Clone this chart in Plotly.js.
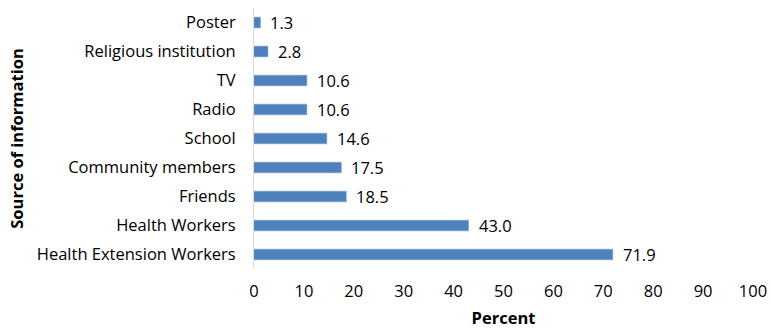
<!DOCTYPE html>
<html><head><meta charset="utf-8">
<script src="https://cdn.plot.ly/plotly-3.0.1.min.js"></script>
<style>html,body{margin:0;padding:0;background:#fff}#chart{width:771px;height:329px}</style>
</head><body><div id="chart"></div>
<script>
const categories = ["Health Extension Workers","Health Workers","Friends","Community members","School","Radio","TV","Religious institution","Poster"];
const percents = [71.9, 43.0, 18.5, 17.5, 14.6, 10.6, 10.6, 2.8, 1.3];
const xTicks = [0,10,20,30,40,50,60,70,80,90,100];

const font = "Open Sans, Liberation Sans, sans-serif";
const fs = 16.5;
const trace = {
  type: "bar", orientation: "h",
  x: percents, y: categories,
  marker: {color: "#4F81BD", line: {color: "#7EA3D1", width: 0.5}},
  width: 0.37,
  hoverinfo: "none"
};
const annotations = percents.map((v, i) => ({
  x: v, y: categories[i], xref: "x", yref: "y",
  text: v.toFixed(1), showarrow: false, xanchor: "left", xshift: 8,
  font: {family: font, size: fs, color: "#000"}
}));
const layout = {
  width: 771, height: 329,
  margin: {l: 254, r: 18, t: 8, b: 60},
  paper_bgcolor: "#fff", plot_bgcolor: "#fff",
  showlegend: false,
  font: {family: font, size: fs, color: "#000"},
  xaxis: {
    range: [0, 100], tickvals: xTicks, ticktext: xTicks.map(String),
    showgrid: false, zeroline: false, showline: false,
    ticks: "outside", ticklen: 7, tickcolor: "rgba(0,0,0,0)",
    tickfont: {family: font, size: fs, color: "#000"},
    title: {text: "<b>Percent</b>", font: {family: font, size: fs, color: "#000"}, standoff: 11}
  },
  yaxis: {
    categoryorder: "array", categoryarray: categories,
    showgrid: false, zeroline: false, showline: true, linecolor: "#D9D9D9", linewidth: 1,
    ticks: "outside", ticklen: 14, tickcolor: "rgba(0,0,0,0)",
    tickfont: {family: font, size: fs, color: "#000"},
    title: {text: "<b>Source of information</b>", font: {family: font, size: fs, color: "#000"}, standoff: 8}
  },
  annotations: annotations
};
Plotly.newPlot("chart", [trace], layout, {displayModeBar: false, staticPlot: true});
</script></body></html>
